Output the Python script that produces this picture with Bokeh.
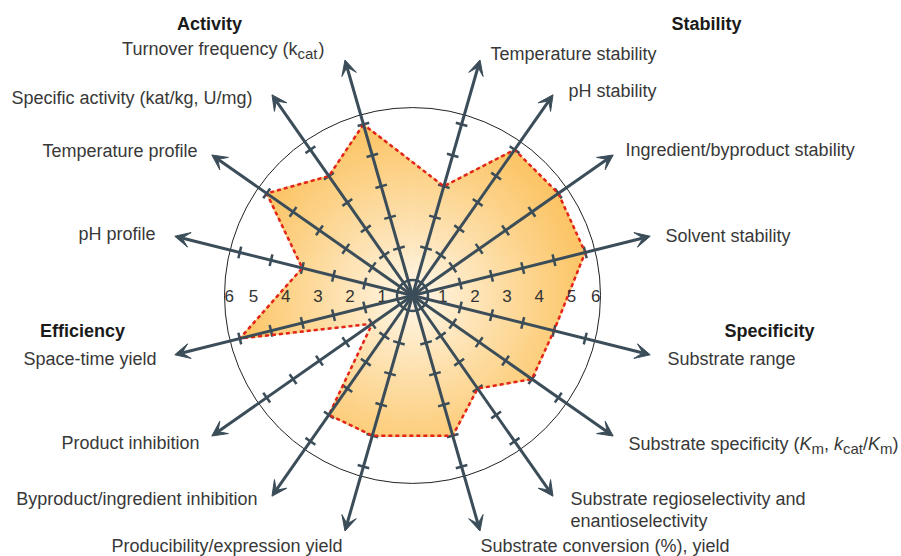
import numpy as np
from bokeh.plotting import figure
from bokeh.models import Range1d, Arrow, VeeHead, ColumnDataSource
from bokeh.embed import file_html
from bokeh.resources import INLINE
from bokeh.core.properties import value

# ---------------- data ----------------
axis_names = [
    "Turnover frequency (kcat)", "Specific activity (kat/kg, U/mg)", "Temperature profile", "pH profile",
    "Space-time yield", "Product inhibition", "Byproduct/ingredient inhibition", "Producibility/expression yield",
    "Substrate conversion (%), yield", "Substrate regioselectivity and enantioselectivity",
    "Substrate specificity (Km, kcat/Km)", "Substrate range",
    "Solvent stability", "Ingredient/byproduct stability", "pH stability", "Temperature stability",
]
axis_angles = [106, 125, 145, 166, 194, 215, 235, 254, 286, 305, 325, 346, 14, 35, 55, 74]
scores = [5, 4, 5, 3, 5, 1, 4, 4, 4, 3, 4, 4, 5, 5, 5, 3]
tick_values = [1, 2, 3, 4, 5]
scale_labels = ["1", "2", "3", "4", "5", "6"]
group_names = ["Activity", "Efficiency", "Specificity", "Stability"]

# ---------------- geometry / style ----------------
cx, cy = 412.0, 295.0
R0, U = 17.0, 32.2
R_OUT = 188.0
R_ARROW = 245.0
AX = "#3b4d59"
TXT = "#383838"
FONT = "Liberation Sans"
FS = "18px"
SUB = "15px"

p = figure(width=901, height=556, x_range=Range1d(0, 901), y_range=Range1d(556, 0),
           output_backend="svg", toolbar_location=None, min_border=0)
p.axis.visible = False
p.grid.visible = False
p.outline_line_color = None
p.background_fill_color = "white"

ang = np.radians(np.array(axis_angles, dtype=float))
rv = R0 + U * np.array(scores, dtype=float)

def scr(r, a):
    return cx + r * np.cos(a), cy - r * np.sin(a)

# ---------------- radial gradient fill ----------------
am = ang % (2 * np.pi)
order = np.argsort(am)
A = am[order]
Rv = rv[order]
V = np.c_[Rv * np.cos(A), Rv * np.sin(A)]
n = len(V)
thetas = np.linspace(0, 2 * np.pi, 1441)
rb = np.empty_like(thetas)
for j, t in enumerate(thetas):
    d0, d1 = np.cos(t), np.sin(t)
    best = np.inf
    for i in range(n):
        P = V[i]
        Q = V[(i + 1) % n]
        E0, E1 = Q[0] - P[0], Q[1] - P[1]
        det = -d0 * E1 + E0 * d1
        if abs(det) < 1e-12:
            continue
        tt = (-P[0] * E1 + E0 * P[1]) / det
        ss = (d0 * P[1] - d1 * P[0]) / det
        if tt > 0 and -1e-9 <= ss <= 1 + 1e-9:
            best = min(best, tt)
    rb[j] = best

c0 = np.array([255, 250, 240], dtype=float)
c1 = np.array([252, 198, 104], dtype=float)
rings_x, rings_y, rings_c = [], [], []
for R in np.arange(rb.max() + 1.0, 0.5, -2.0):
    rr = np.minimum(rb, R)
    xs, ys = scr(rr, thetas)
    tfrac = min(R / 172.0, 1.0) ** 0.9
    c = c0 + (c1 - c0) * tfrac
    rings_x.append(list(xs))
    rings_y.append(list(ys))
    rings_c.append("#%02x%02x%02x" % tuple(int(round(v)) for v in c))
p.patches(rings_x, rings_y, fill_color=rings_c, line_color=rings_c, line_width=0.6)

# ---------------- outer circle ----------------
p.circle(x=[cx], y=[cy], radius=R_OUT, fill_color=None, line_color="#222222", line_width=1)

# ---------------- axes with arrows ----------------
ex, ey = scr(R_ARROW, ang)
src = ColumnDataSource(dict(x0=[cx] * len(ang), y0=[cy] * len(ang), x1=list(ex), y1=list(ey)))
p.add_layout(Arrow(end=VeeHead(size=15, fill_color=AX, line_color=AX, line_width=1),
                   x_start="x0", y_start="y0", x_end="x1", y_end="y1", source=src,
                   line_color=AX, line_width=3))

# ticks
tx0, ty0, tx1, ty1 = [], [], [], []
for a in ang:
    for k in tick_values:
        r = R0 + U * k
        bx, by = scr(r, a)
        nx, ny = -np.sin(a), -np.cos(a)
        tx0.append(bx + 6 * nx); ty0.append(by + 6 * ny)
        tx1.append(bx - 6 * nx); ty1.append(by - 6 * ny)
p.segment(tx0, ty0, tx1, ty1, line_color=AX, line_width=2.5)

# centre ring
p.circle(x=[cx], y=[cy], radius=R0 - 1.5, fill_color=None, line_color=AX, line_width=2.5)

# dashed score polygon
px, py = scr(rv, ang)
p.patch(list(px) + [px[0]], list(py) + [py[0]], fill_color=None, line_color="#e2231a",
        line_width=2.5, line_dash="4 3")

# scale numbers
offs = [U * k - 2 for k in range(1, 6)] + [U * 6 - 10]
nx_r = [cx + o for o in offs]
nx_l = [cx - o for o in offs]
p.text(x=nx_r + nx_l, y=[cy] * 12, text=scale_labels + scale_labels, text_font=value(FONT),
       text_font_size="17px", text_color="#333333", text_align="center", text_baseline="middle")

# ---------------- labels ----------------
def txt(x, y, s, align="left", size=FS, style="normal", color=TXT):
    p.text(x=[x], y=[y], text=[s], text_font=value(FONT), text_font_size=size,
           text_font_style=style, text_color=color, text_align=align, text_baseline="middle")

# group titles
txt(209, 23, group_names[0], "center", style="bold", color="#1a1a1a")
txt(82, 330, group_names[1], "center", style="bold", color="#1a1a1a")
txt(769, 330, group_names[2], "center", style="bold", color="#1a1a1a")
txt(706, 23, group_names[3], "center", style="bold", color="#1a1a1a")

# left side (right aligned)
txt(297, 48, "Turnover frequency (k", "right")
txt(297, 53, "cat", "left", size=SUB)
txt(318, 48, ")", "left")
txt(252, 97, axis_names[1], "right")
txt(197, 150, axis_names[2], "right")
txt(155, 233, axis_names[3], "right")
txt(156, 358, axis_names[4], "right")
txt(199, 442, axis_names[5], "right")
txt(257, 498, axis_names[6], "right")
txt(342, 545, axis_names[7], "right")

# right side (left aligned)
txt(480, 545, axis_names[8], "left")
txt(570, 498, "Substrate regioselectivity and", "left")
txt(570, 520, "enantioselectivity", "left")
# Substrate specificity (Km, kcat/Km)
txt(628, 443, "Substrate specificity (", "left")
txt(799, 443, "K", "left", style="italic")
txt(811, 448, "m", "left", size=SUB)
txt(823.5, 443, ",", "left")
txt(833.5, 443, "k", "left", style="italic")
txt(842.5, 448, "cat", "left", size=SUB)
txt(862.5, 443, "/", "left")
txt(867.5, 443, "K", "left", style="italic")
txt(879.5, 448, "m", "left", size=SUB)
txt(892, 443, ")", "left")
txt(667, 358, axis_names[11], "left")
txt(665, 235, axis_names[12], "left")
txt(625, 149, axis_names[13], "left")
txt(568, 90, axis_names[14], "left")
txt(490, 53, axis_names[15], "left")

open("out.html", "w").write(file_html(p, INLINE))
